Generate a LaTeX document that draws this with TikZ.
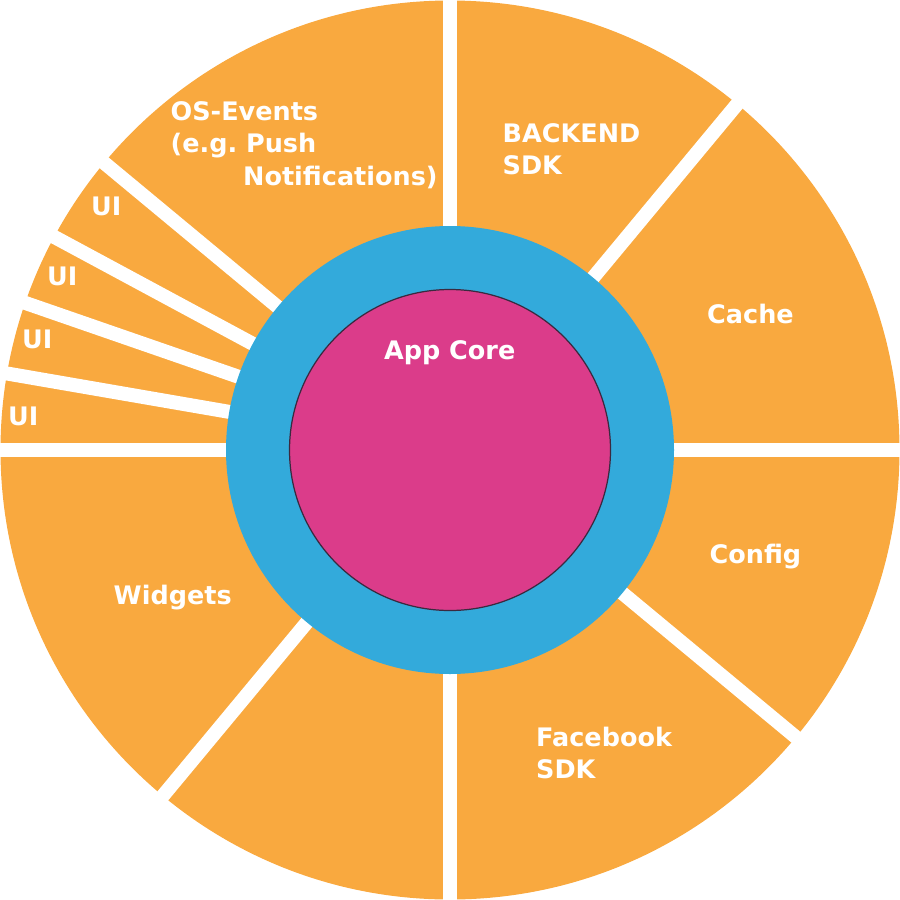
\documentclass[tikz,border=0pt]{standalone}
\usepackage{fontspec}
\setmainfont{DejaVu Sans}
\definecolor{segorange}{HTML}{F9A93F}
\definecolor{ringblue}{HTML}{33AADB}
\definecolor{corepink}{HTML}{DB3C8A}
\definecolor{coreline}{HTML}{3A2A40}
\tikzset{
  lbl/.style={text=white, inner sep=0pt, anchor=base west,
    font=\bfseries\fontsize{7.25}{9.1}\selectfont},
  gap/.style={white, line width=0.14cm}
}
\begin{document}
\begin{tikzpicture}[x=0.01cm, y=-0.01cm]
\useasboundingbox (0,0) rectangle (900,900);
\coordinate (c) at (450,450);
% orange disc
\fill[segorange] (c) circle[radius=449.5];
% white gaps (visual angles negated because y points down)
\foreach \a in {0,-90,-180,-270,-50.3,-140.3,-230.3,-320.3,-151.7,-160.9,-170.2}
  \draw[gap] (c) -- ++(\a:452);
% blue ring and pink core
\fill[ringblue] (c) circle[radius=224];
\filldraw[fill=corepink, draw=coreline, line width=0.35pt] (c) circle[radius=160.5];
% labels
\node[lbl] (os1) at (170,120.7) {OS-Events};
\node[lbl] (os2) at (170,152.7) {(e.g.\ Push};
\node[lbl] (os3) at (242.5,185) {Notifications)};
\node[lbl] (be1) at (502,142.3) {BACKEND};
\node[lbl] (be2) at (502,174) {SDK};
\node[lbl] (cache) at (706.5,323.3) {Cache};
\node[lbl] (config) at (709,563.3) {Config};
\node[lbl] (fb1) at (535.5,746) {Facebook};
\node[lbl] (fb2) at (535.5,778) {SDK};
\node[lbl] (widgets) at (113,604.3) {Widgets};
\node[lbl] (ui1) at (90.5,215.7) {UI};
\node[lbl] (ui2) at (46.5,285) {UI};
\node[lbl] (ui3) at (21.5,348.3) {UI};
\node[lbl] (ui4) at (7.5,425) {UI};
\node[lbl, anchor=base] (core) at (449.7,359.3) {App Core};
\end{tikzpicture}
\end{document}
